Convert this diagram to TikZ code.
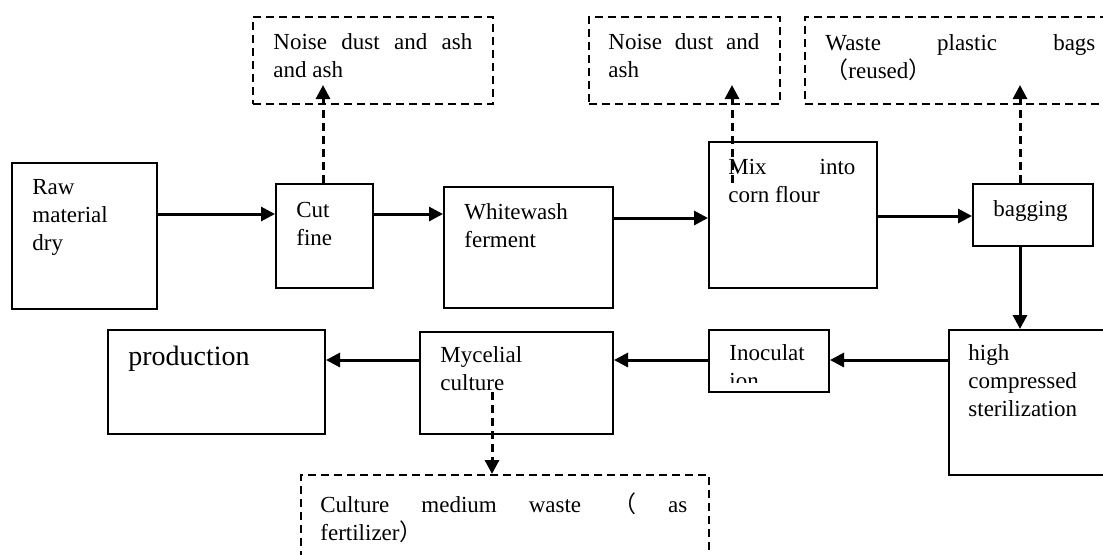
\documentclass[tikz,border=0pt]{standalone}
\usepackage{fontspec}
\setmainfont{Liberation Serif}
\newfontfamily\cjk{Noto Sans CJK SC}
\usetikzlibrary{arrows.meta}
\newcommand{\jline}[2]{\makebox[#1][s]{#2}}
\tikzset{
  proc/.style={draw, line width=1pt, inner sep=0pt, anchor=north west},
  waste/.style={draw, line width=1pt, dash pattern=on 4pt off 2.5pt, inner sep=0pt, anchor=north west},
  lbl/.style={anchor=base west, inner sep=0pt, align=left, font=\fontsize{11.5}{14}\selectfont},
  flow/.style={line width=1.5pt, -{Triangle[length=7pt,width=7pt]}},
  leak/.style={line width=1.5pt, dash pattern=on 4pt off 2.5pt, -{Triangle[length=7pt,width=7pt]}},
}
\begin{document}
\begin{tikzpicture}[x=0.5pt, y=-0.5pt]
\clip (0,0) rectangle (1103,554);
\node[proc, minimum width=72.5pt, minimum height=73pt] (raw) at (11,162){};
\node[proc, minimum width=48.5pt, minimum height=52pt] (cut) at (275,183){};
\node[proc, minimum width=84.5pt, minimum height=60.5pt] (white) at (443,186){};
\node[proc, minimum width=84pt, minimum height=73pt] (mix) at (708,141){};
\node[proc, minimum width=60pt, minimum height=31pt] (bag) at (972,183){};
\node[proc, minimum width=86pt, minimum height=72.5pt] (high) at (948,329){};
\node[proc, minimum width=60pt, minimum height=31pt] (inoc) at (708,329){};
\node[proc, minimum width=96.5pt, minimum height=51pt] (myc) at (419,331){};
\node[proc, minimum width=108.5pt, minimum height=52pt] (prod) at (107,329){};
\node[waste, minimum width=120pt, minimum height=43.5pt] (dust1) at (252,16){};
\node[waste, minimum width=95.5pt, minimum height=43.5pt] (dust2) at (588,16){};
\node[waste, minimum width=158pt, minimum height=43.5pt] (bags) at (804,16){};
\node[waste, minimum width=204pt, minimum height=48pt] (fert) at (300,474){};

\node[lbl] (rawtxt) at (32,250){Raw\\material\\dry};
\node[lbl] (cuttxt) at (296,245){Cut\\fine};
\node[lbl] (whitetxt) at (464,247){Whitewash\\ferment};
\node[lbl] (mixtxt) at (728,202){\jline{63.5pt}{Mix into}\\corn flour};
\node[lbl] (bagtxt) at (993,216){bagging};
\node[lbl] (hightxt) at (968,416){high\\compressed\\sterilization};
\node[lbl] (inoctxt) at (729,360){Inoculat};
\begin{scope}
\clip (708,329) rectangle (828,382);
\node[lbl] (inoctxt2) at (729,388){ion};
\end{scope}
\node[lbl] (myctxt) at (440,390){Mycelial\\culture};
\node[lbl, font=\fontsize{14}{17}\selectfont] (prodtxt) at (128,365){production};
\node[lbl] (dust1txt) at (273,77){\jline{99.5pt}{Noise dust and ash}\\and ash};
\node[lbl] (dust2txt) at (608,77){\jline{75.5pt}{Noise dust and}\\ash};
\node[lbl] (bagstxt) at (825,78){\jline{135pt}{Waste plastic bags}\\{\cjk （}reused{\cjk ）}};
\node[lbl] (ferttxt) at (320,540){\jline{183.5pt}{Culture medium waste {\cjk （} as}\\fertilizer{\cjk ）}};

\draw[flow] (raw.east |- 0,214) -- (cut.west |- 0,214);
\draw[flow] (cut.east |- 0,214) -- (white.west |- 0,214);
\draw[flow] (white.east |- 0,218) -- (mix.west |- 0,218);
\draw[flow] (mix.east |- 0,216) -- (bag.west |- 0,216);
\draw[flow] (bag.south -| 1020,0) -- (high.north -| 1020,0);
\draw[flow] (high.west |- 0,360) -- (inoc.east |- 0,360);
\draw[flow] (inoc.west |- 0,360) -- (myc.east |- 0,360);
\draw[flow] (myc.west |- 0,360) -- (prod.east |- 0,360);

\draw[leak, shorten >=-10pt] (cut.north -| 323,0) -- (dust1.south -| 323,0);
\draw[leak, shorten >=-10pt, shorten <=-21pt] (mix.north -| 732,0) -- (dust2.south -| 732,0);
\draw[leak, shorten >=-10pt] (bag.north -| 1020,0) -- (bags.south -| 1020,0);
\draw[leak, shorten <=-21.5pt] (myc.south -| 492,0) -- (fert.north -| 492,0);
\end{tikzpicture}
\end{document}
